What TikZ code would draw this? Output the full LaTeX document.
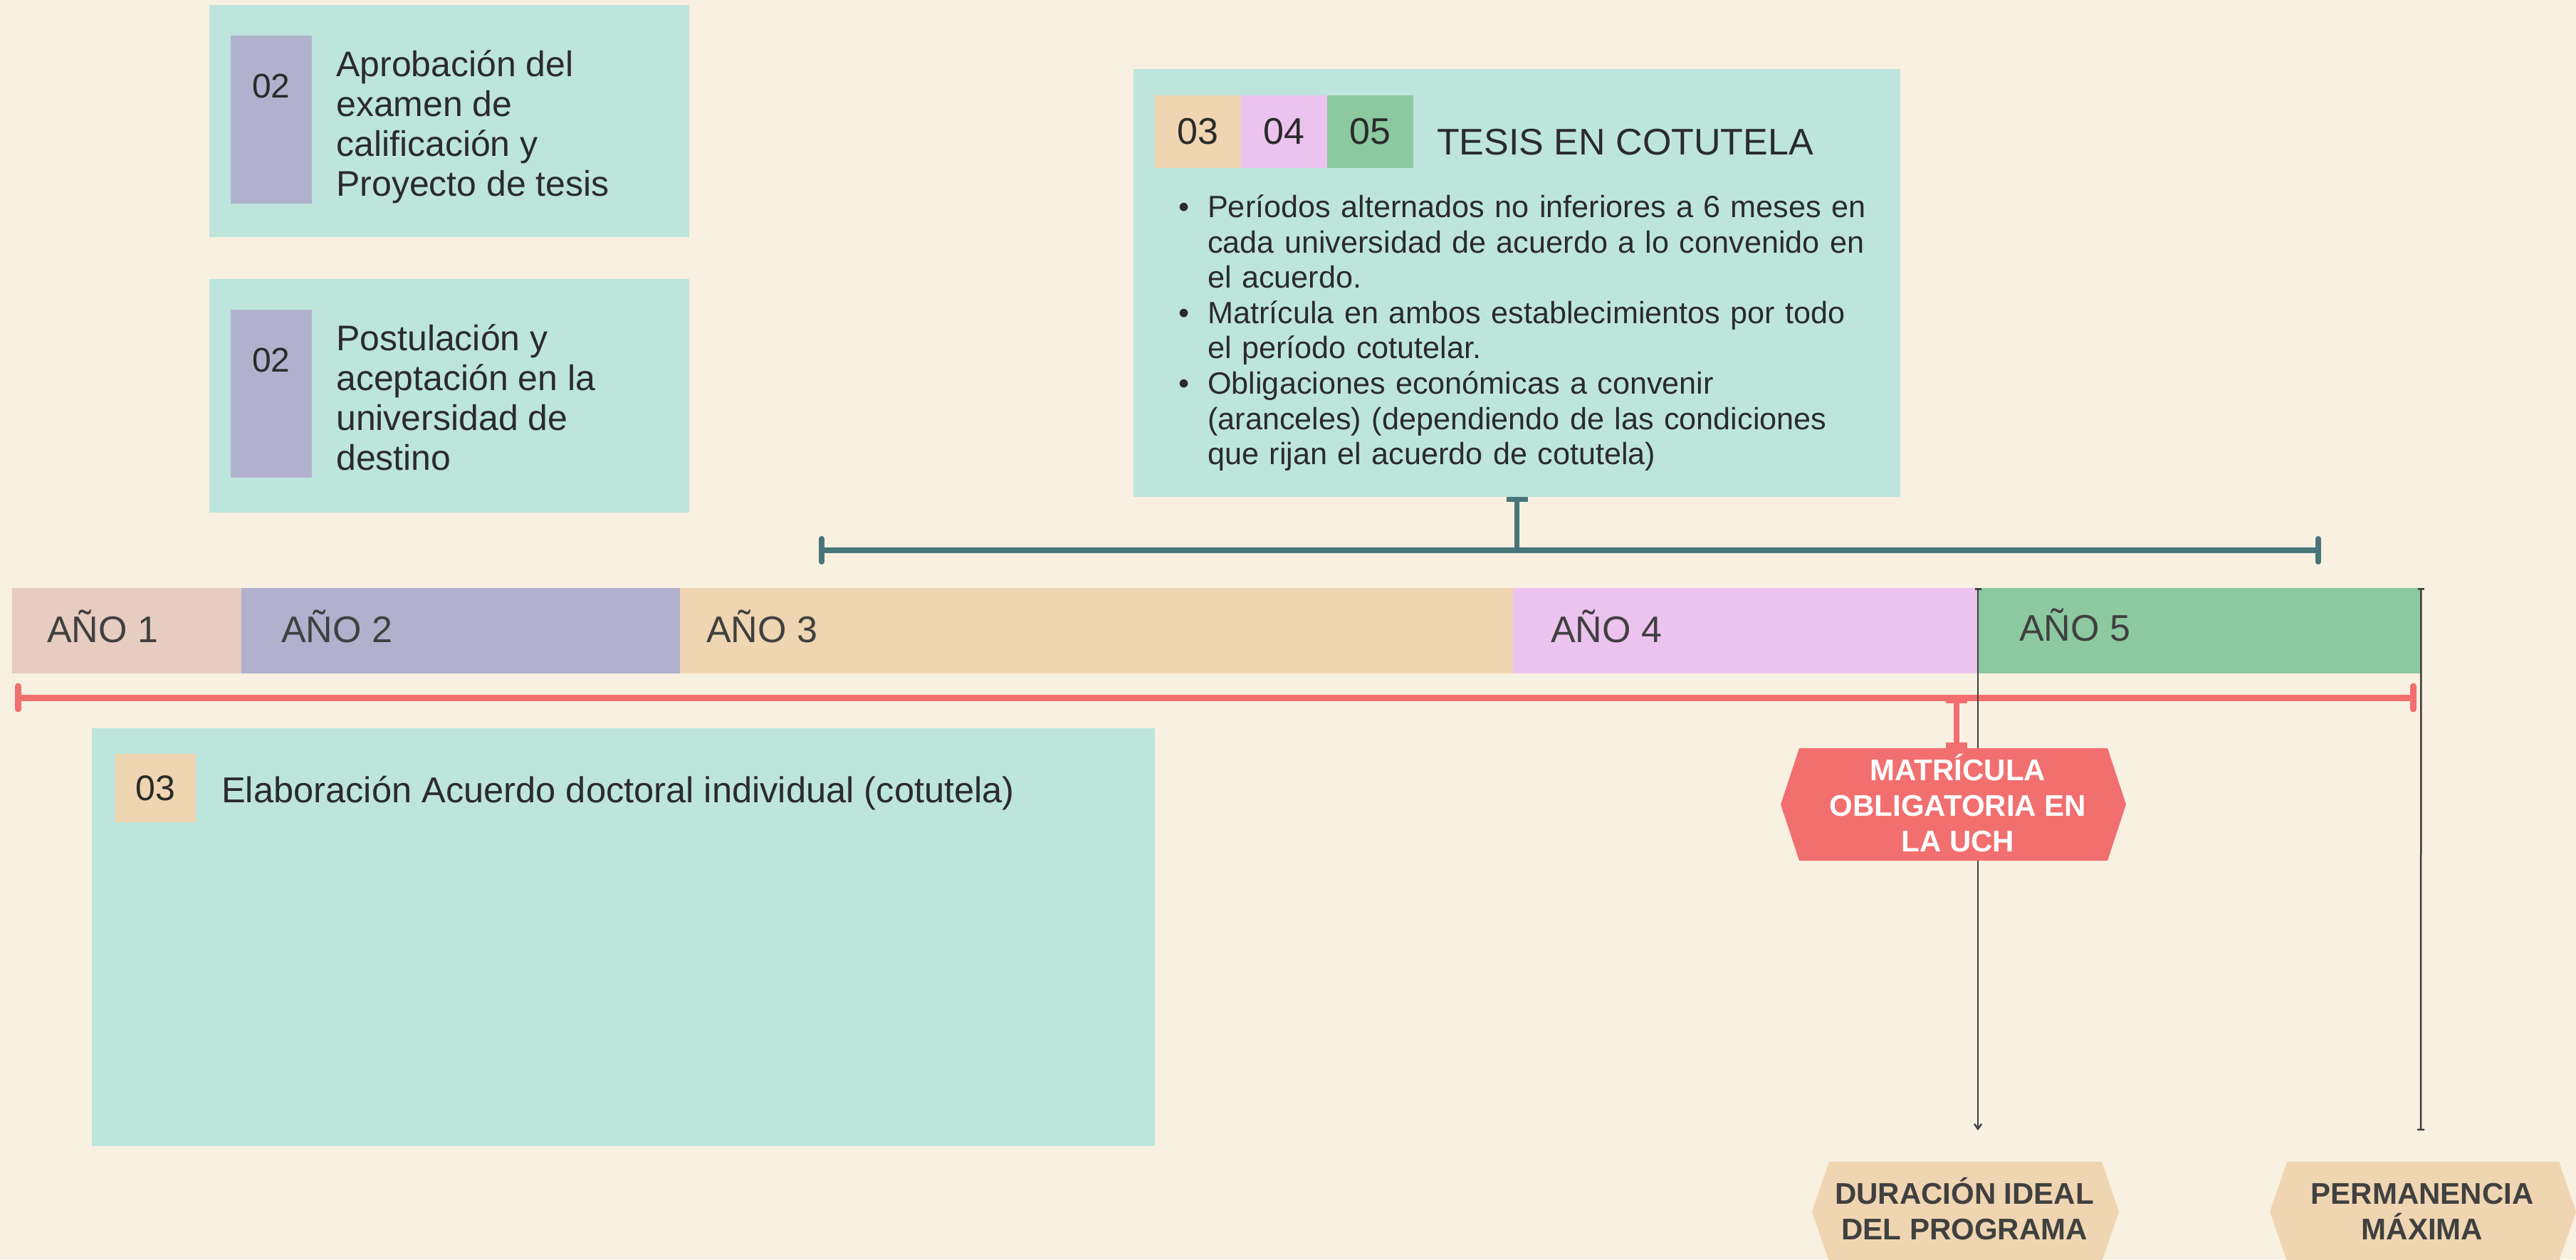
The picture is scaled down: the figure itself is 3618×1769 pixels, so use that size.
\documentclass[tikz,border=0pt]{standalone}
\usepackage{fontspec}
\setmainfont{Liberation Sans}
\usetikzlibrary{arrows.meta}
\definecolor{creamBg}{HTML}{F8F0E1}
\definecolor{mintCard}{HTML}{BDE5DC}
\definecolor{lavTag}{HTML}{B1B1CE}
\definecolor{roseTag}{HTML}{E7CCC1}
\definecolor{sandTag}{HTML}{EFD5B1}
\definecolor{pinkTag}{HTML}{ECC3EE}
\definecolor{greenTag}{HTML}{8DC9A0}
\definecolor{coralLine}{HTML}{F26F6F}
\definecolor{tealLine}{HTML}{48757A}
\definecolor{inkA}{HTML}{2B2B2B}
\definecolor{inkB}{HTML}{404040}
\begin{document}
\begin{tikzpicture}[x=1pt,y=-1pt,
  card/.style={fill=mintCard,inner sep=0pt,anchor=north west},
  block/.style={fill=#1,inner sep=0pt,anchor=north west},
  numtxt/.style={text=inkA,inner sep=0pt,font=\fontsize{48}{56}\selectfont},
  bodytxt/.style={text=inkA,inner sep=0pt,anchor=base west,align=left,font=\fontsize{50}{55.7}\selectfont},
  yeartxt/.style={text=inkB,inner sep=0pt,anchor=base west,font=\fontsize{52}{60}\selectfont},
  hextxt/.style={inner sep=0pt,anchor=base,align=center,font=\bfseries\fontsize{42}{50}\selectfont},
  thinline/.style={draw=inkB,line width=2.5pt},
]
\clip (0,0) rectangle (3618,1769);
\fill[creamBg] (0,0) rectangle (3618,1769);

% cards
\node[card,minimum width=674pt,minimum height=326pt] (c1) at (294,7) {};
\node[card,minimum width=674pt,minimum height=328pt] (c2) at (294,392) {};
\node[card,minimum width=1077pt,minimum height=601pt] (tesis) at (1592,97) {};
\node[card,minimum width=1493pt,minimum height=587pt] (elab) at (129,1023) {};

% tags
\node[block=lavTag,minimum width=114pt,minimum height=236pt] (sq1) at (324,50) {};
\node[block=lavTag,minimum width=114pt,minimum height=236pt] (sq2) at (324,435) {};
\node[numtxt,anchor=base] (n1) at (381,137) {02};
\node[numtxt,anchor=base] (n2) at (381,522) {02};
% base anchor of a multi-line node = last line
\node[bodytxt] (t1) at (472,275) {Aprobación del\\examen de\\calificación y\\Proyecto de tesis};
\node[bodytxt] (t2) at (472,660) {Postulación y\\aceptación en la\\universidad de\\destino};

\node[block=sandTag,minimum width=121pt,minimum height=102pt,font=\fontsize{52}{60}\selectfont,text=inkA] (g3) at (1622,133.5) {03};
\node[block=pinkTag,minimum width=121pt,minimum height=102pt,font=\fontsize{52}{60}\selectfont,text=inkA] (g4) at (1743,133.5) {04};
\node[block=greenTag,minimum width=121pt,minimum height=102pt,font=\fontsize{52}{60}\selectfont,text=inkA] (g5) at (1864,133.5) {05};
\node[text=inkA,inner sep=0pt,anchor=base west,font=\fontsize{52}{60}\selectfont] (ttl) at (2018,217) {TESIS EN COTUTELA};
\node[text=inkA,inner sep=0pt,anchor=base west,text width=1000pt,font=\fontsize{43.2}{49.6}\selectfont] (bul) at (1655,305.5) {%
\leftskip=41pt\parindent=0pt
\noindent\llap{\makebox[41pt][l]{•}}Períodos alternados no inferiores a 6 meses en\newline cada universidad de acuerdo a lo convenido en\newline el acuerdo.\par
\noindent\llap{\makebox[41pt][l]{•}}Matrícula en ambos establecimientos por todo\newline el período cotutelar.\par
\noindent\llap{\makebox[41pt][l]{•}}Obligaciones económicas a convenir\newline (aranceles) (dependiendo de las condiciones\newline que rijan el acuerdo de cotutela)\par};

\node[block=sandTag,minimum width=113pt,minimum height=96pt,font=\fontsize{50}{58}\selectfont,text=inkA] (e3) at (162,1059) {03};
\node[bodytxt,font=\fontsize{50.6}{56}\selectfont] (te) at (311,1127) {Elaboración Acuerdo doctoral individual (cotutela)};

% year bar
\node[block=roseTag,minimum width=322pt,minimum height=120pt] (y1) at (17,826) {};
\node[block=lavTag,minimum width=616pt,minimum height=120pt] (y2) at (339,826) {};
\node[block=sandTag,minimum width=1170pt,minimum height=120pt] (y3) at (955,826) {};
\node[block=pinkTag,minimum width=653pt,minimum height=120pt] (y4) at (2125,826) {};
\node[block=greenTag,minimum width=622pt,minimum height=120pt] (y5) at (2778,826) {};
\node[yeartxt] (l1) at (66,902) {AÑO 1};
\node[yeartxt] (l2) at (395,902) {AÑO 2};
\node[yeartxt] (l3) at (992,902) {AÑO 3};
\node[yeartxt] (l4) at (2178,902) {AÑO 4};
\node[yeartxt] (l5) at (2836,900) {AÑO 5};

% teal bracket
\coordinate (tl) at (1150,773);
\coordinate (tr) at (3260,773);
\draw[tealLine,line width=8pt,{Bar[width=32pt,round]}-{Bar[width=32pt,round]}] (tl) -- (tr);
\draw[tealLine,line width=7pt,{Bar[width=30pt]}-] (tesis.south) -- (tesis.south |- tl);

% coral bracket
\coordinate (rl) at (21,980);
\coordinate (rr) at (3394,980);
\coordinate (mtop) at (2748,1051);
\draw[coralLine,line width=9pt,{Bar[width=32pt,round]}-{Bar[width=32pt,round]}] (rl) -- (rr);
\draw[coralLine,line width=8pt,{Bar[width=30pt]}-{Bar[width=30pt]}] (mtop |- rl) -- (mtop);

% thin vertical markers
\coordinate (d1) at (2778,1588);
\coordinate (d2) at (3400,1588);
\draw[thinline,{Bar[width=9pt]}-{Straight Barb[length=7pt,width=10pt]}] (y5.north west) -- (d1);
\draw[thinline,{Bar[width=9pt]}-{Bar[width=10pt]}] (y5.north east) -- (d2);

% hexagons
\fill[coralLine] (2501,1130) -- (2527,1051) -- (2960,1051) -- (2986,1130) -- (2960,1209) -- (2527,1209) -- cycle;
\node[hextxt,text=white] (mat) at (2750,1196) {MATRÍCULA\\OBLIGATORIA EN\\LA UCH};
\fill[sandTag] (2545,1702) -- (2569,1632) -- (2952,1632) -- (2976,1702) -- (2952,1772) -- (2569,1772) -- cycle;
\node[hextxt,text=inkB] (dur) at (2759,1741) {DURACIÓN IDEAL\\DEL PROGRAMA};
\fill[sandTag] (3188,1702) -- (3212,1632) -- (3594,1632) -- (3618,1702) -- (3594,1772) -- (3212,1772) -- cycle;
\node[hextxt,text=inkB] (perm) at (3402,1741) {PERMANENCIA\\MÁXIMA};
\end{tikzpicture}
\end{document}
